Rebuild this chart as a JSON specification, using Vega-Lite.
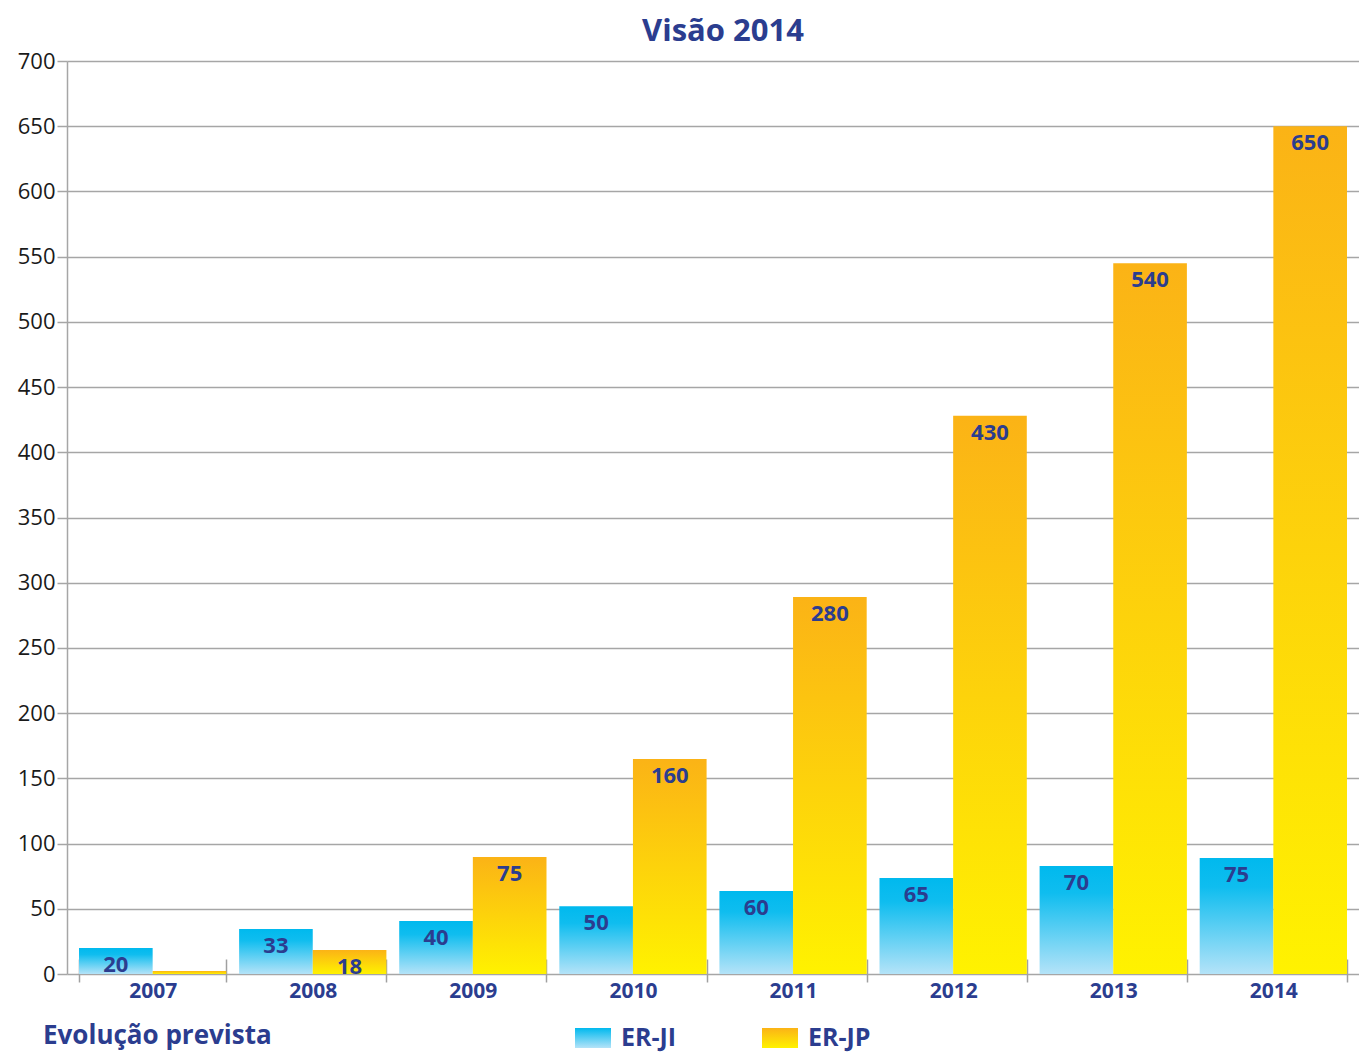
{
  "$schema": "https://vega.github.io/schema/vega-lite/v6.json",
  "width": 1292,
  "height": 913,
  "autosize": {"type": "none"},
  "padding": {"left": 67, "top": 61, "right": 0, "bottom": 78},
  "background": "white",
  "title": {"text": "Visão 2014", "font": "Open Sans", "fontSize": 31, "fontWeight": "bold", "color": "#2b3d8f", "anchor": "middle", "offset": 2, "dx": 10},
  "config": {"view": {"stroke": null}, "font": "Open Sans"},
  "data": {"values": [
    {"year": "2007", "series": "ER-JI", "value": 20, "label": "20"},
    {"year": "2007", "series": "ER-JP", "value": 2.3, "label": ""},
    {"year": "2008", "series": "ER-JI", "value": 34.5, "label": "33"},
    {"year": "2008", "series": "ER-JP", "value": 18.4, "label": "18"},
    {"year": "2009", "series": "ER-JI", "value": 40.6, "label": "40"},
    {"year": "2009", "series": "ER-JP", "value": 89.7, "label": "75"},
    {"year": "2010", "series": "ER-JI", "value": 52, "label": "50"},
    {"year": "2010", "series": "ER-JP", "value": 164.8, "label": "160"},
    {"year": "2011", "series": "ER-JI", "value": 63.6, "label": "60"},
    {"year": "2011", "series": "ER-JP", "value": 289, "label": "280"},
    {"year": "2012", "series": "ER-JI", "value": 73.6, "label": "65"},
    {"year": "2012", "series": "ER-JP", "value": 428, "label": "430"},
    {"year": "2013", "series": "ER-JI", "value": 82.8, "label": "70"},
    {"year": "2013", "series": "ER-JP", "value": 545, "label": "540"},
    {"year": "2014", "series": "ER-JI", "value": 88.9, "label": "75"},
    {"year": "2014", "series": "ER-JP", "value": 650, "label": "650"}
  ]},
  "encoding": {
    "x": {
      "field": "year", "type": "nominal", "title": null,
      "scale": {"paddingInner": 0.08, "paddingOuter": 0.075},
      "axis": {"labelAngle": 0, "labelFontSize": 21, "labelFontWeight": "bold", "labelColor": "#2b3d8f", "labelFont": "Open Sans", "tickBand": "extent", "tickSize": 23, "offset": -15, "domain": false, "tickColor": "#a0a0a0", "tickWidth": 1.5, "labelPadding": -2}
    },
    "xOffset": {"field": "series", "type": "nominal", "sort": ["ER-JI", "ER-JP"], "scale": {"paddingInner": 0, "paddingOuter": 0}},
    "y": {
      "field": "value", "type": "quantitative", "title": null,
      "scale": {"domain": [0, 700], "nice": false},
      "axis": {"values": [0, 50, 100, 150, 200, 250, 300, 350, 400, 450, 500, 550, 600, 650, 700], "labelFontSize": 22, "labelColor": "#1a1a1a", "labelFont": "Open Sans", "tickSize": 10, "labelPadding": 2, "gridColor": "#a6a6a6", "gridWidth": 1.5, "domainColor": "#a6a6a6", "domainWidth": 1.5, "tickColor": "#a6a6a6", "tickWidth": 1.5}
    }
  },
  "layer": [
    {
      "mark": {"type": "bar"},
      "encoding": {
        "fill": {
          "condition": {"test": "datum.series === 'ER-JI'", "value": {"gradient": "linear", "x1": 0, "y1": 0, "x2": 0, "y2": 1, "stops": [{"offset": 0, "color": "#00b9ee"}, {"offset": 0.25, "color": "#0fbdef"}, {"offset": 1, "color": "#b4e3f8"}]}},
          "value": {"gradient": "linear", "x1": 0, "y1": 0, "x2": 0, "y2": 1, "stops": [{"offset": 0, "color": "#fbb316"}, {"offset": 1, "color": "#fff200"}]}
        }
      }
    },
    {
      "mark": {"type": "point", "filled": true, "opacity": 0},
      "encoding": {
        "shape": {
          "field": "series", "type": "nominal",
          "scale": {"domain": ["ER-JI", "ER-JP"], "range": ["M-1,-0.555H1V0.555H-1Z", "M-1,-0.555H1V0.555H-1Z"]},
          "legend": {"orient": "none", "legendX": -24, "legendY": 959, "direction": "horizontal", "columns": 2, "title": "Evolução  prevista", "titleOrient": "left", "titlePadding": 296, "titleFontSize": 26, "titleFont": "Open Sans", "titleFontWeight": "bold", "titleColor": "#2b3d8f", "titleLimit": 500, "labelFontSize": 25, "labelFont": "Open Sans", "labelFontWeight": "bold", "labelColor": "#2b3d8f", "labelLimit": 300, "symbolSize": 1296, "symbolStrokeWidth": 0, "symbolOpacity": 1, "labelOffset": 10, "columnPadding": 85,
            "encoding": {"symbols": {
              "opacity": {"value": 1},
              "fill": {
                "condition": {"test": "datum.value === 'ER-JI'", "value": {"gradient": "linear", "x1": 0, "y1": 0, "x2": 0, "y2": 1, "stops": [{"offset": 0, "color": "#00b9ee"}, {"offset": 1, "color": "#b4e3f8"}]}},
                "value": {"gradient": "linear", "x1": 0, "y1": 0, "x2": 0, "y2": 1, "stops": [{"offset": 0, "color": "#fbb316"}, {"offset": 1, "color": "#fff200"}]}
              }
            }}
          }
        }
      }
    },
    {
      "mark": {"type": "text", "baseline": "middle", "align": "center", "dy": 17, "fontSize": 22, "fontWeight": "bold", "color": "#2b3d8f", "font": "Open Sans"},
      "encoding": {"text": {"field": "label"}}
    }
  ]
}
